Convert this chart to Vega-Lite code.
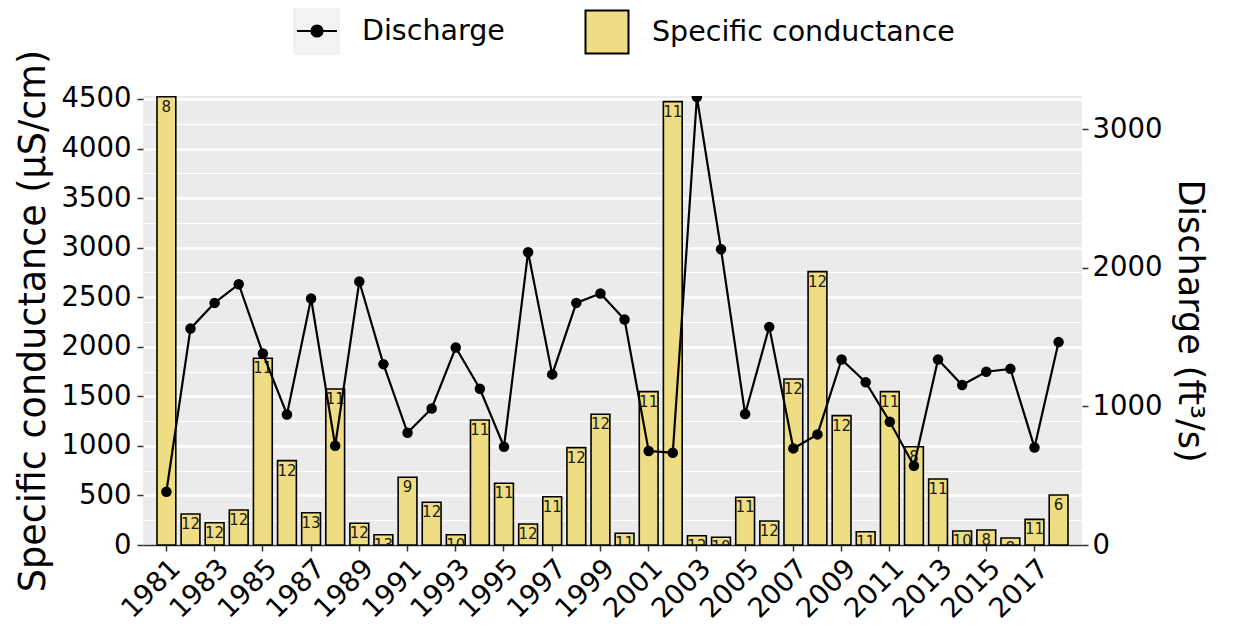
{
  "$schema": "https://vega.github.io/schema/vega-lite/v6.json",
  "autosize": {"type": "none"},
  "width": 939,
  "height": 449,
  "padding": {"left": 143, "top": 96, "right": 154, "bottom": 81},
  "background": "white",
  "config": {
    "font": "DejaVu Sans",
    "view": {"fill": "#EBEBEB", "stroke": null},
    "axis": {"labelColor": "black", "titleColor": "black", "tickColor": "#333333", "domainColor": "#333333", "titleFontWeight": "normal"}
  },
  "data": {"values": [
    {"year": 1981, "cond": 4523, "n": 8, "q": 384},
    {"year": 1982, "cond": 313, "n": 12, "q": 1562},
    {"year": 1983, "cond": 225, "n": 12, "q": 1747},
    {"year": 1984, "cond": 353, "n": 12, "q": 1882},
    {"year": 1985, "cond": 1884, "n": 11, "q": 1382},
    {"year": 1986, "cond": 851, "n": 12, "q": 942},
    {"year": 1987, "cond": 326, "n": 13, "q": 1779},
    {"year": 1988, "cond": 1574, "n": 11, "q": 716},
    {"year": 1989, "cond": 219, "n": 12, "q": 1901},
    {"year": 1990, "cond": 104, "n": 13, "q": 1305},
    {"year": 1991, "cond": 683, "n": 9, "q": 810},
    {"year": 1992, "cond": 431, "n": 12, "q": 985},
    {"year": 1993, "cond": 104, "n": 10, "q": 1425},
    {"year": 1994, "cond": 1261, "n": 11, "q": 1127},
    {"year": 1995, "cond": 623, "n": 11, "q": 709},
    {"year": 1996, "cond": 212, "n": 12, "q": 2113},
    {"year": 1997, "cond": 487, "n": 11, "q": 1231},
    {"year": 1998, "cond": 982, "n": 12, "q": 1747},
    {"year": 1999, "cond": 1319, "n": 12, "q": 1815},
    {"year": 2000, "cond": 118, "n": 11, "q": 1627},
    {"year": 2001, "cond": 1547, "n": 11, "q": 678},
    {"year": 2002, "cond": 4473, "n": 11, "q": 666},
    {"year": 2003, "cond": 94, "n": 12, "q": 3232},
    {"year": 2004, "cond": 78, "n": 10, "q": 2134},
    {"year": 2005, "cond": 481, "n": 11, "q": 945},
    {"year": 2006, "cond": 242, "n": 12, "q": 1574},
    {"year": 2007, "cond": 1675, "n": 12, "q": 697},
    {"year": 2008, "cond": 2758, "n": 12, "q": 798},
    {"year": 2009, "cond": 1305, "n": 12, "q": 1339},
    {"year": 2010, "cond": 134, "n": 11, "q": 1175},
    {"year": 2011, "cond": 1547, "n": 11, "q": 889},
    {"year": 2012, "cond": 992, "n": 8, "q": 572},
    {"year": 2013, "cond": 666, "n": 11, "q": 1339},
    {"year": 2014, "cond": 141, "n": 10, "q": 1154},
    {"year": 2015, "cond": 151, "n": 8, "q": 1250},
    {"year": 2016, "cond": 71, "n": 8, "q": 1271},
    {"year": 2017, "cond": 259, "n": 11, "q": 704},
    {"year": 2018, "cond": 505, "n": 6, "q": 1464}
  ]},
  "encoding": {
    "x": {
      "field": "year", "type": "ordinal",
      "scale": {"paddingInner": 0.22, "paddingOuter": 0.58},
      "axis": {
        "title": null,
        "values": [1981, 1983, 1985, 1987, 1989, 1991, 1993, 1995, 1997, 1999, 2001, 2003, 2005, 2007, 2009, 2011, 2013, 2015, 2017],
        "labelAngle": -45, "labelAlign": "right", "labelBaseline": "top",
        "labelFontSize": 27.5, "labelPadding": 3, "labelDx": 3,
        "tickSize": 6, "tickWidth": 1.5, "domainWidth": 1.5, "grid": false
      }
    }
  },
  "layer": [
    {
      "encoding": {
        "y": {
          "field": "cond", "type": "quantitative",
          "scale": {"domain": [0, 4530], "nice": false, "zero": true},
          "axis": {
            "title": "Specific conductance (µS/cm)",
            "titleFontSize": 36.5, "titlePadding": 9,
            "values": [0, 250, 500, 750, 1000, 1250, 1500, 1750, 2000, 2250, 2500, 2750, 3000, 3250, 3500, 3750, 4000, 4250, 4500],
            "labelExpr": "datum.value % 500 === 0 ? format(datum.value, 'd') : ''",
            "labelFontSize": 27.5, "labelPadding": 6,
            "tickSize": 6, "tickWidth": 1.5,
            "tickOpacity": {"condition": {"test": "datum.value % 500 === 0", "value": 1}, "value": 0},
            "domain": false,
            "grid": true, "gridColor": "white",
            "gridWidth": {"condition": {"test": "datum.value % 500 === 0", "value": 2.4}, "value": 1.2}
          }
        }
      },
      "layer": [
        {
          "mark": {"type": "bar", "stroke": "black", "strokeWidth": 1.6},
          "encoding": {
            "fill": {
              "datum": "Specific conductance",
              "scale": {"range": ["#EEDD82"]},
              "legend": {
                "title": null, "orient": "none", "legendX": 441, "legendY": -87,
                "symbolType": "square", "symbolSize": 1850, "symbolStrokeColor": "black", "symbolStrokeWidth": 2,
                "labelFontSize": 28.5, "labelOffset": 22, "labelColor": "black", "labelLimit": 0, "padding": 0
              }
            }
          }
        },
        {
          "mark": {"type": "text", "baseline": "top", "dy": 3, "fontSize": 15, "color": "#1a1a1a", "clip": true},
          "encoding": {"text": {"field": "n", "type": "quantitative"}}
        }
      ]
    },
    {
      "encoding": {
        "y": {
          "field": "q", "type": "quantitative",
          "scale": {"domain": [0, 3240], "nice": false},
          "axis": {
            "title": "Discharge (ft³/s)", "orient": "right",
            "titleFontSize": 35, "titlePadding": 10,
            "values": [0, 1000, 2000, 3000], "format": "d",
            "labelFontSize": 27.5, "labelPadding": 4,
            "tickSize": 6, "tickWidth": 1.5, "domain": false, "grid": false
          }
        }
      },
      "layer": [
        {
          "mark": {"type": "point", "opacity": 0, "size": 1},
          "encoding": {
            "shape": {
              "datum": "key",
              "scale": {"range": ["square"]},
              "legend": {
                "title": null, "orient": "none", "legendX": 150, "legendY": -88, "zindex": 0,
                "fillColor": "#F2F2F2", "padding": 23,
                "symbolSize": 1, "symbolOpacity": 0, "symbolStrokeWidth": 0,
                "labelExpr": "''", "labelFontSize": 1, "labelOffset": 0, "labelLimit": 1
              }
            }
          }
        },
        {
          "mark": {"type": "line", "strokeWidth": 2.2, "clip": true},
          "encoding": {
            "stroke": {
              "datum": "Discharge",
              "scale": {"range": ["black"]},
              "legend": {
                "title": null, "orient": "none", "legendX": 153, "legendY": -86, "zindex": 1,
                "symbolType": "M-1,0H1M-0.28,0A0.28,0.28 0 1,0 0.28,0A0.28,0.28 0 1,0 -0.28,0Z",
                "symbolSize": 1600, "symbolFillColor": "black", "symbolStrokeWidth": 2,
                "labelFontSize": 28.5, "labelOffset": 24, "labelColor": "black", "labelLimit": 0, "padding": 0
              }
            }
          }
        },
        {
          "mark": {"type": "point", "filled": true, "color": "black", "size": 110, "opacity": 1, "clip": true}
        }
      ]
    }
  ],
  "resolve": {"scale": {"y": "independent"}}
}
